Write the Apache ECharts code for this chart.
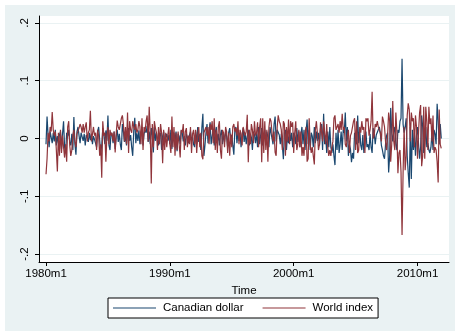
<!DOCTYPE html>
<html><head><meta charset="utf-8">
<script src="https://cdn.jsdelivr.net/npm/echarts@6/dist/echarts.min.js"></script>
<style>html,body{margin:0;padding:0;background:#fff}#c{width:455px;height:331px}</style>
</head><body><div id="c"></div>
<script>
const startYear = 1980;
const seriesNames = ['Canadian dollar', 'World index'];
const xTickIdx = [0, 120, 240, 360];
const xTickLabels = ['1980m1', '1990m1', '2000m1', '2010m1'];
const yTicks = [-0.2, -0.1, 0, 0.1, 0.2];
const yTickLabels = ['-.2', '-.1', '0', '.1', '.2'];

// monthly values, one row per year 1980..2011
const canadianDollar = [
  -0.010, 0.038, 0.005, -0.015, 0.012, 0.002, -0.008, 0.010, -0.005, 0.015, -0.012, 0.004,
  -0.008, 0.006, 0.012, -0.018, 0.008, 0.030, -0.015, -0.025, 0.010, 0.004, 0.015, -0.006,
  -0.012, 0.008, -0.020, 0.037, -0.010, -0.028, 0.012, 0.020, 0.005, -0.008, 0.010, 0.003,
  -0.004, 0.008, -0.012, 0.006, 0.002, -0.006, 0.010, -0.003, 0.008, -0.010, 0.004, -0.002,
  -0.008, -0.015, 0.012, 0.020, 0.020, -0.025, -0.012, 0.018, 0.006, -0.010, 0.014, -0.004,
  0.040, -0.012, -0.020, 0.010, 0.006, -0.008, 0.012, -0.018, 0.004, 0.015, -0.006, 0.008,
  -0.010, -0.020, 0.025, 0.012, -0.006, 0.004, -0.012, 0.010, 0.018, -0.004, 0.006, -0.015,
  -0.030, 0.012, 0.036, -0.008, 0.010, -0.004, 0.014, -0.010, 0.006, 0.020, -0.012, 0.008,
  0.015, 0.010, 0.022, -0.006, 0.012, -0.010, 0.018, 0.005, -0.024, 0.020, -0.004, 0.010,
  0.008, -0.012, 0.005, 0.010, -0.020, 0.004, 0.012, -0.006, 0.002, 0.008, -0.004, 0.006,
  -0.010, 0.015, -0.018, 0.006, 0.010, -0.004, 0.012, -0.022, 0.008, 0.004, -0.010, 0.014,
  0.010, -0.005, 0.004, -0.012, 0.008, 0.002, -0.008, 0.006, 0.012, -0.004, 0.003, -0.010,
  -0.015, 0.012, -0.010, 0.020, -0.006, 0.008, -0.020, 0.018, 0.043, -0.030, -0.012, 0.010,
  0.025, -0.008, 0.012, 0.028, -0.010, 0.004, 0.015, -0.012, 0.010, 0.020, -0.006, 0.008,
  -0.012, 0.006, 0.015, -0.010, 0.008, -0.006, 0.012, 0.004, -0.015, 0.010, 0.018, -0.004,
  0.006, -0.012, -0.028, 0.015, 0.020, -0.008, 0.012, -0.004, 0.010, -0.015, 0.006, 0.018,
  -0.006, 0.010, -0.010, 0.004, 0.015, -0.012, 0.008, 0.002, -0.020, 0.012, 0.006, -0.008,
  0.010, -0.015, 0.020, -0.010, 0.006, 0.018, -0.012, 0.004, 0.015, -0.008, 0.012, 0.002,
  -0.015, 0.020, 0.010, 0.012, -0.010, 0.025, 0.038, -0.005, 0.015, 0.012, 0.006, -0.010,
  0.008, -0.012, -0.036, 0.010, 0.015, -0.020, 0.006, -0.008, 0.012, -0.004, 0.010, -0.015,
  0.010, 0.005, -0.010, 0.018, -0.006, 0.012, -0.015, 0.008, 0.020, -0.010, 0.015, -0.020,
  0.012, 0.033, -0.010, 0.015, -0.020, 0.010, 0.004, -0.015, 0.020, -0.008, 0.012, -0.004,
  0.010, -0.012, 0.018, 0.025, -0.020, 0.043, -0.010, 0.005, -0.025, 0.012, -0.015, 0.020,
  -0.015, -0.025, -0.010, -0.030, -0.046, 0.010, -0.020, 0.015, -0.025, -0.010, 0.012, -0.020,
  0.015, 0.010, 0.045, -0.005, 0.020, -0.030, -0.010, -0.018, -0.041, -0.025, -0.035, 0.010,
  0.012, -0.010, 0.040, -0.008, 0.015, -0.012, -0.020, 0.006, -0.025, -0.010, 0.012, -0.015,
  -0.010, -0.020, 0.008, -0.015, -0.025, 0.018, 0.010, -0.010, 0.006, 0.004, 0.015, 0.020,
  0.008, -0.012, -0.020, -0.030, -0.035, -0.010, 0.005, 0.010, -0.059, -0.030, 0.053, 0.010,
  -0.005, 0.012, 0.020, -0.010, -0.020, 0.015, 0.010, 0.030, 0.035, 0.138, 0.025, 0.010,
  0.020, 0.035, -0.030, -0.060, -0.085, 0.020, -0.070, 0.015, -0.020, 0.010, -0.030, 0.005,
  0.020, -0.010, -0.035, -0.015, 0.040, 0.020, -0.025, -0.010, 0.020, -0.015, -0.008, -0.020,
  -0.025, -0.015, 0.010, -0.020, 0.015, 0.008, -0.010, 0.060, 0.030, -0.010, 0.025, 0.000
];
const worldIndex = [
  -0.062, -0.035, 0.010, -0.005, 0.020, 0.012, 0.046, 0.015, 0.005, 0.012, -0.020, -0.057,
  0.010, -0.030, 0.015, -0.025, 0.005, -0.015, -0.033, -0.010, -0.040, 0.020, 0.030, -0.012,
  -0.030, -0.020, 0.005, 0.015, -0.005, -0.015, 0.008, 0.010, 0.018, 0.025, 0.020, 0.010,
  0.025, 0.010, 0.020, 0.028, -0.005, 0.010, 0.015, 0.048, -0.005, -0.008, 0.020, 0.005,
  0.010, -0.020, 0.015, 0.005, -0.030, -0.010, -0.068, 0.030, 0.005, 0.010, -0.040, 0.005,
  0.020, -0.010, 0.015, 0.005, 0.010, -0.005, 0.012, -0.024, 0.008, 0.031, 0.020, 0.015,
  0.015, 0.035, 0.040, 0.025, -0.005, 0.020, -0.010, 0.045, -0.025, 0.030, 0.015, 0.010,
  0.030, 0.020, 0.015, 0.025, 0.010, 0.015, 0.030, 0.020, -0.010, 0.035, -0.020, 0.020,
  0.012, 0.030, 0.040, -0.005, 0.055, 0.010, -0.078, 0.025, -0.015, 0.030, 0.018, 0.010,
  -0.020, 0.020, -0.010, 0.025, 0.010, -0.043, 0.015, -0.020, 0.010, -0.015, 0.005, 0.020,
  -0.010, -0.025, 0.038, -0.015, 0.020, -0.030, 0.010, -0.020, 0.012, -0.010, -0.033, 0.015,
  0.010, 0.025, -0.020, 0.012, 0.018, -0.015, 0.005, -0.010, 0.020, -0.025, 0.008, 0.015,
  -0.010, 0.015, -0.025, 0.005, 0.020, -0.015, 0.010, -0.030, -0.036, 0.010, 0.012, 0.020,
  0.005, 0.020, -0.010, 0.025, 0.015, 0.030, -0.008, 0.035, -0.020, 0.015, -0.025, 0.020,
  0.030, -0.020, -0.035, 0.015, 0.010, -0.015, 0.020, 0.012, -0.025, 0.010, -0.030, 0.008,
  -0.015, 0.020, 0.025, 0.012, 0.018, 0.005, 0.030, -0.010, 0.015, 0.008, -0.012, 0.020,
  0.020, 0.005, 0.012, 0.041, -0.041, 0.015, -0.010, 0.025, 0.015, -0.008, 0.030, 0.005,
  0.010, 0.028, -0.015, 0.020, 0.035, -0.041, 0.035, -0.025, 0.030, -0.020, 0.015, -0.040,
  0.020, 0.035, 0.030, 0.010, -0.005, 0.012, -0.024, -0.030, 0.020, 0.040, 0.030, 0.025,
  0.015, -0.020, 0.030, 0.025, -0.030, 0.020, -0.005, 0.033, -0.010, 0.030, 0.020, 0.028,
  -0.025, 0.010, 0.030, -0.020, -0.010, 0.015, -0.015, 0.012, -0.030, -0.015, -0.030, 0.010,
  0.020, -0.040, -0.035, 0.035, -0.010, -0.025, -0.015, -0.030, -0.045, 0.015, 0.030, 0.008,
  -0.020, -0.010, 0.028, 0.025, -0.005, 0.030, 0.028, -0.010, 0.025, -0.015, -0.030, -0.020,
  -0.030, -0.015, -0.005, 0.035, 0.040, 0.015, 0.020, 0.025, 0.010, 0.030, 0.015, 0.043,
  0.015, 0.020, -0.010, -0.015, 0.005, 0.015, -0.025, 0.005, 0.010, 0.020, 0.030, 0.035,
  -0.020, 0.030, -0.025, -0.020, 0.020, 0.010, 0.030, 0.015, 0.020, -0.025, 0.035, 0.030,
  0.035, 0.005, 0.015, 0.030, 0.081, 0.000, 0.005, 0.025, 0.020, 0.030, 0.020, 0.015,
  0.010, -0.005, 0.038, 0.030, 0.020, -0.005, -0.020, 0.005, 0.045, 0.030, -0.040, -0.010,
  0.065, -0.005, -0.020, 0.045, 0.010, -0.060, -0.025, -0.020, -0.058, -0.167, -0.060, 0.020,
  -0.055, -0.030, 0.040, 0.061, 0.050, -0.005, 0.045, 0.030, 0.035, -0.015, 0.040, 0.020,
  -0.035, 0.012, 0.045, 0.058, -0.048, -0.030, 0.055, -0.035, 0.055, 0.030, -0.020, 0.055,
  0.025, 0.035, -0.005, 0.040, -0.025, -0.015, -0.020, -0.040, -0.076, 0.050, -0.010, -0.017
];

const font = "'Liberation Sans', Arial, sans-serif";
const toPairs = arr => arr.map((v, i) => [i, v]);
const monthLabel = i => (startYear + Math.floor(i / 12)) + 'm' + (i % 12 + 1);

const chart = echarts.init(document.getElementById('c'), null, {renderer: 'canvas'});
chart.setOption({
  animation: false,
  backgroundColor: '#ffffff',
  textStyle: {fontFamily: font},
  graphic: [{type: 'rect', z: -100, shape: {x: 5, y: 5, width: 450, height: 326}, style: {fill: '#eaf2f3'}, silent: true}],
  grid: {left: 39, top: 16, right: 6, bottom: 69, show: true, backgroundColor: '#ffffff', borderWidth: 0},
  xAxis: {
    type: 'value', min: -6.8, max: 390.5,
    name: 'Time', nameLocation: 'middle', nameGap: 21,
    nameTextStyle: {fontSize: 11.5, color: '#000', fontFamily: font},
    axisLine: {show: true, onZero: false, lineStyle: {color: '#000', width: 1}},
    axisTick: {show: true, length: 4, customValues: xTickIdx, lineStyle: {color: '#000'}},
    axisLabel: {customValues: xTickIdx, margin: 6, fontSize: 11.5, color: '#000', fontFamily: font,
      formatter: v => { const k = xTickIdx.indexOf(Math.round(v)); return k >= 0 ? xTickLabels[k] : monthLabel(Math.round(v)); }},
    splitLine: {show: false}
  },
  yAxis: {
    type: 'value', min: -0.2138, max: 0.2121,
    axisLine: {show: true, onZero: false, lineStyle: {color: '#000', width: 1}},
    axisTick: {show: true, length: 4, customValues: yTicks, lineStyle: {color: '#000'}},
    axisLabel: {customValues: yTicks, rotate: 90, margin: 8, fontSize: 11.5, color: '#000', fontFamily: font,
      formatter: v => { let k = -1; yTicks.forEach((t, j) => { if (Math.abs(t - v) < 1e-6) k = j; }); return k >= 0 ? yTickLabels[k] : String(v); }},
    splitLine: {show: true, lineStyle: {color: '#eaf2f3', width: 1}}
  },
  legend: {
    left: 108, top: 298, orient: 'horizontal',
    padding: [4, 5, 4, 5], itemWidth: 43, itemHeight: 1, itemGap: 19,
    icon: 'rect', borderColor: '#000', borderWidth: 1, borderRadius: 0, backgroundColor: '#fff',
    textStyle: {fontSize: 11.5, color: '#000', fontFamily: font, padding: [0, 0, 0, 2]},
    data: seriesNames
  },
  series: [
    {name: seriesNames[0], type: 'line', data: toPairs(canadianDollar), showSymbol: false, symbol: 'none',
     lineStyle: {color: '#1a476f', width: 1.2}, itemStyle: {color: '#1a476f'}},
    {name: seriesNames[1], type: 'line', data: toPairs(worldIndex), showSymbol: false, symbol: 'none',
     lineStyle: {color: '#90353b', width: 1.2}, itemStyle: {color: '#90353b'}}
  ]
});
</script></body></html>
